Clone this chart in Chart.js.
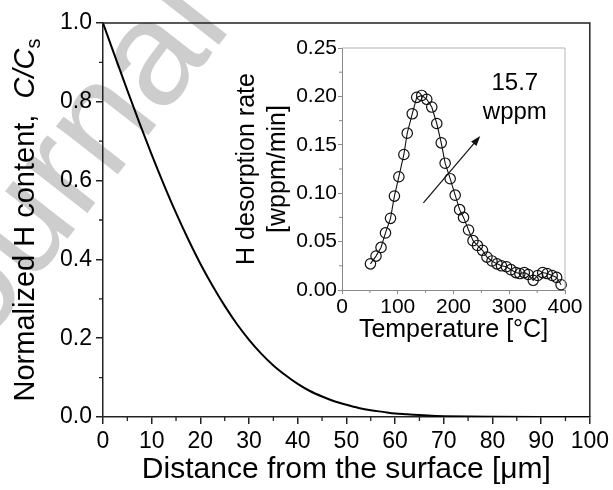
<!DOCTYPE html>
<html>
<head>
<meta charset="utf-8">
<title>H content profile</title>
<script src="https://cdn.jsdelivr.net/npm/chart.js@4.4.1/dist/chart.umd.min.js"></script>
<style>
    html, body { margin: 0; padding: 0; background: #fff; }
    #wrap { position: relative; width: 613px; height: 490px; overflow: hidden; }
    #mainChart { position: absolute; left: 0; top: 0; }
    #insetChart { position: absolute; left: 220px; top: 30px; }
</style>
</head>
<body>
<div id="wrap">
    <canvas id="mainChart" width="613" height="490" style="width:613px;height:490px"></canvas>
    <canvas id="insetChart" width="380" height="320" style="width:380px;height:320px"></canvas>
</div>
<script>
// Main plot: normalized H content vs depth
const distance = [0, 2.5, 5, 7.5, 10, 12.5, 15, 17.5, 20, 22.5, 25, 27.5, 30, 32.5, 35, 37.5,
    40, 42.5, 45, 47.5, 50, 52.5, 55, 57.5, 60, 62.5, 65, 67.5, 70, 75, 80, 90, 100];
const content = [1.000, 0.914, 0.829, 0.746, 0.666, 0.590, 0.518, 0.451, 0.389, 0.333, 0.282, 0.236,
    0.196, 0.161, 0.131, 0.106, 0.084, 0.066, 0.052, 0.040, 0.031, 0.023, 0.017, 0.013, 0.009,
    0.007, 0.005, 0.003, 0.002, 0.001, 0.0005, 0, 0];
const mainXTicks = [0, 10, 20, 30, 40, 50, 60, 70, 80, 90, 100];
const mainYTicks = [0, 0.2, 0.4, 0.6, 0.8, 1.0];

// Inset: TDS desorption curve
const temperature = [51, 61, 70, 78, 87, 94, 102, 111, 117, 126, 134, 143, 152, 161, 170, 178, 185,
    194, 203, 211, 218, 227, 235, 243, 252, 260, 269, 278, 286, 295, 303, 312, 319, 327, 334, 343,
    351, 360, 368, 377, 385, 393];
const desorptionRate = [0.027, 0.035, 0.044, 0.059, 0.074, 0.097, 0.117, 0.140, 0.162, 0.182, 0.199,
    0.201, 0.197, 0.189, 0.172, 0.152, 0.131, 0.115, 0.098, 0.083, 0.075, 0.062, 0.051, 0.046, 0.041,
    0.034, 0.030, 0.027, 0.025, 0.024, 0.021, 0.018, 0.017, 0.018, 0.016, 0.010, 0.015, 0.018, 0.017,
    0.015, 0.013, 0.0055];
const insetXTicks = [0, 100, 200, 300, 400];
const insetYTicks = [0, 0.05, 0.10, 0.15, 0.20, 0.25];

// Annotation in inset data units
const arrowFrom = [146, 0.090];
const arrowTo = [248, 0.159];
const noteLines = ['15.7', 'wppm'];
const notePos = [[310, 0.213], [310, 0.183]];

const FONT = '"Liberation Sans", Arial, Helvetica, sans-serif';
const AXIS = '#222';

function fixedTicks(list) {
    return function(scale) {
        scale.ticks = list.map(v => ({ value: v }));
    };
}

function minorTicks(ctx, scale, values, len, color, width) {
    ctx.save();
    ctx.strokeStyle = color;
    ctx.lineWidth = width;
    ctx.beginPath();
    values.forEach(v => {
        const p = scale.getPixelForValue(v);
        if (scale.isHorizontal()) {
            ctx.moveTo(p, scale.top);
            ctx.lineTo(p, scale.top + len);
        } else {
            ctx.moveTo(scale.right, p);
            ctx.lineTo(scale.right - len, p);
        }
    });
    ctx.stroke();
    ctx.restore();
}

// background watermark, behind everything
const watermark = {
    id: 'watermark',
    beforeDraw(chart) {
        const ctx = chart.ctx;
        ctx.save();
        ctx.fillStyle = 'rgb(205,205,205)';
        ctx.font = '148px ' + FONT;
        ctx.textBaseline = 'middle';
        ctx.translate(-98, 384);
        ctx.rotate(-52 * Math.PI / 180);
        ctx.fillText('Journal Pre-proof', 0, 0);
        ctx.restore();
    }
};

const mainDecor = {
    id: 'mainDecor',
    afterDraw(chart) {
        const ctx = chart.ctx;
        const a = chart.chartArea;
        const xs = chart.scales.x, ys = chart.scales.y;

        // frame top / right
        ctx.save();
        ctx.strokeStyle = AXIS;
        ctx.lineWidth = 1.5;
        ctx.beginPath();
        ctx.moveTo(a.left, a.top);
        ctx.lineTo(a.right, a.top);
        ctx.lineTo(a.right, a.bottom);
        ctx.stroke();
        ctx.restore();

        minorTicks(ctx, xs, [5, 15, 25, 35, 45, 55, 65, 75, 85, 95], 4, AXIS, 1.3);
        minorTicks(ctx, ys, [0.1, 0.3, 0.5, 0.7, 0.9], 4, AXIS, 1.3);

        // axis titles
        ctx.save();
        ctx.fillStyle = '#000';
        ctx.font = '30px ' + FONT;
        ctx.textAlign = 'center';
        ctx.textBaseline = 'middle';
        ctx.fillText('Distance from the surface [\u03bcm]', (a.left + a.right) / 2, a.bottom + 53);
        ctx.restore();

        // y title: "Normalized H content, C/Cs" with italic C/C and subscript s
        ctx.save();
        ctx.translate(a.left - 69, (a.top + a.bottom) / 2);
        ctx.rotate(-Math.PI / 2);
        ctx.fillStyle = '#000';
        ctx.textBaseline = 'alphabetic';
        const parts = [
            { t: 'Normalized H content,  ', f: '29px ' + FONT, dy: 0 },
            { t: 'C/C', f: 'italic 29px ' + FONT, dy: 0 },
            { t: 's', f: '20px ' + FONT, dy: 6 }
        ];
        let total = 0;
        parts.forEach(p => { ctx.font = p.f; p.w = ctx.measureText(p.t).width; total += p.w; });
        let x = -total / 2;
        parts.forEach(p => {
            ctx.font = p.f;
            ctx.fillText(p.t, x, p.dy);
            x += p.w;
        });
        ctx.restore();
    }
};

new Chart(document.getElementById('mainChart'), {
    type: 'line',
    data: {
        datasets: [{
            data: distance.map((d, i) => ({ x: d, y: content[i] })),
            borderColor: '#000',
            borderWidth: 2,
            pointRadius: 0,
            cubicInterpolationMode: 'monotone',
            fill: false
        }]
    },
    options: {
        responsive: false,
        animation: false,
        devicePixelRatio: 1,
        layout: { padding: { left: 0, top: 23, right: 21, bottom: 0 } },
        plugins: { legend: { display: false }, tooltip: { enabled: false } },
        scales: {
            x: {
                type: 'linear',
                min: 0,
                max: 100,
                afterBuildTicks: fixedTicks(mainXTicks),
                afterFit(s) { s.height = 73; },
                grid: { drawOnChartArea: false, tickLength: 7, color: AXIS, lineWidth: 1.5 },
                border: { display: true, color: AXIS, width: 1.5 },
                ticks: { color: '#000', font: { family: FONT, size: 23 }, padding: 4, maxRotation: 0 }
            },
            y: {
                type: 'linear',
                min: 0,
                max: 1,
                afterBuildTicks: fixedTicks(mainYTicks),
                afterFit(s) { s.width = 103; },
                grid: { drawOnChartArea: false, tickLength: 7, color: AXIS, lineWidth: 1.5 },
                border: { display: true, color: AXIS, width: 1.5 },
                ticks: {
                    color: '#000',
                    font: { family: FONT, size: 23 },
                    padding: 4,
                    callback: v => v.toFixed(1)
                }
            }
        }
    },
    plugins: [watermark, mainDecor]
});

const GREY = '#8a8a8a';

const insetDecor = {
    id: 'insetDecor',
    afterDraw(chart) {
        const ctx = chart.ctx;
        const a = chart.chartArea;
        const xs = chart.scales.x, ys = chart.scales.y;

        ctx.save();
        ctx.strokeStyle = '#b5b5b5';
        ctx.lineWidth = 1;
        ctx.beginPath();
        ctx.moveTo(a.left, a.top);
        ctx.lineTo(a.right, a.top);
        ctx.lineTo(a.right, a.bottom);
        ctx.stroke();
        ctx.restore();

        minorTicks(ctx, xs, [50, 150, 250, 350], 3, GREY, 1);
        minorTicks(ctx, ys, [0.025, 0.075, 0.125, 0.175, 0.225], 3, GREY, 1);

        // arrow
        const x0 = xs.getPixelForValue(arrowFrom[0]), y0 = ys.getPixelForValue(arrowFrom[1]);
        const x1 = xs.getPixelForValue(arrowTo[0]), y1 = ys.getPixelForValue(arrowTo[1]);
        const ang = Math.atan2(y1 - y0, x1 - x0);
        ctx.save();
        ctx.strokeStyle = '#111';
        ctx.fillStyle = '#111';
        ctx.lineWidth = 1.2;
        ctx.beginPath();
        ctx.moveTo(x0, y0);
        ctx.lineTo(x1 - 6 * Math.cos(ang), y1 - 6 * Math.sin(ang));
        ctx.stroke();
        ctx.beginPath();
        ctx.moveTo(x1, y1);
        ctx.lineTo(x1 - 10 * Math.cos(ang) + 3.5 * Math.sin(ang), y1 - 10 * Math.sin(ang) - 3.5 * Math.cos(ang));
        ctx.lineTo(x1 - 10 * Math.cos(ang) - 3.5 * Math.sin(ang), y1 - 10 * Math.sin(ang) + 3.5 * Math.cos(ang));
        ctx.closePath();
        ctx.fill();
        ctx.restore();

        ctx.save();
        ctx.fillStyle = '#000';
        ctx.textAlign = 'center';
        ctx.textBaseline = 'middle';
        ctx.font = '24px ' + FONT;
        noteLines.forEach((t, i) => {
            ctx.fillText(t, xs.getPixelForValue(notePos[i][0]), ys.getPixelForValue(notePos[i][1]));
        });

        ctx.font = '25px ' + FONT;
        ctx.fillText('Temperature [\u00b0C]', (a.left + a.right) / 2, a.bottom + 40);
        ctx.translate(a.left, (a.top + a.bottom) / 2);
        ctx.rotate(-Math.PI / 2);
        ctx.fillText('H desorption rate', 0, -95);
        ctx.fillText('[wppm/min]', 0, -64);
        ctx.restore();
    }
};

new Chart(document.getElementById('insetChart'), {
    type: 'line',
    data: {
        datasets: [{
            data: temperature.map((t, i) => ({ x: t, y: desorptionRate[i] })),
            borderColor: '#111',
            borderWidth: 1.1,
            tension: 0,
            pointStyle: 'circle',
            pointRadius: 5.2,
            pointBorderWidth: 1.2,
            pointBorderColor: '#111',
            pointBackgroundColor: 'rgba(0,0,0,0)',
            clip: false,
            fill: false
        }]
    },
    options: {
        responsive: false,
        animation: false,
        devicePixelRatio: 1,
        layout: { padding: { left: 0, top: 18, right: 35, bottom: 0 } },
        plugins: { legend: { display: false }, tooltip: { enabled: false } },
        scales: {
            x: {
                type: 'linear',
                min: 0,
                max: 400,
                afterBuildTicks: fixedTicks(insetXTicks),
                afterFit(s) { s.height = 60; },
                grid: { drawOnChartArea: false, tickLength: 4, color: GREY, lineWidth: 1 },
                border: { display: true, color: GREY, width: 1 },
                ticks: { color: '#000', font: { family: FONT, size: 21 }, padding: 1, maxRotation: 0 }
            },
            y: {
                type: 'linear',
                min: 0,
                max: 0.25,
                afterBuildTicks: fixedTicks(insetYTicks),
                afterFit(s) { s.width = 122; },
                grid: { drawOnChartArea: false, tickLength: 4, color: GREY, lineWidth: 1 },
                border: { display: true, color: GREY, width: 1 },
                ticks: {
                    color: '#000',
                    font: { family: FONT, size: 21 },
                    padding: 1,
                    callback: v => v.toFixed(2)
                }
            }
        }
    },
    plugins: [insetDecor]
});
</script>
</body>
</html>
